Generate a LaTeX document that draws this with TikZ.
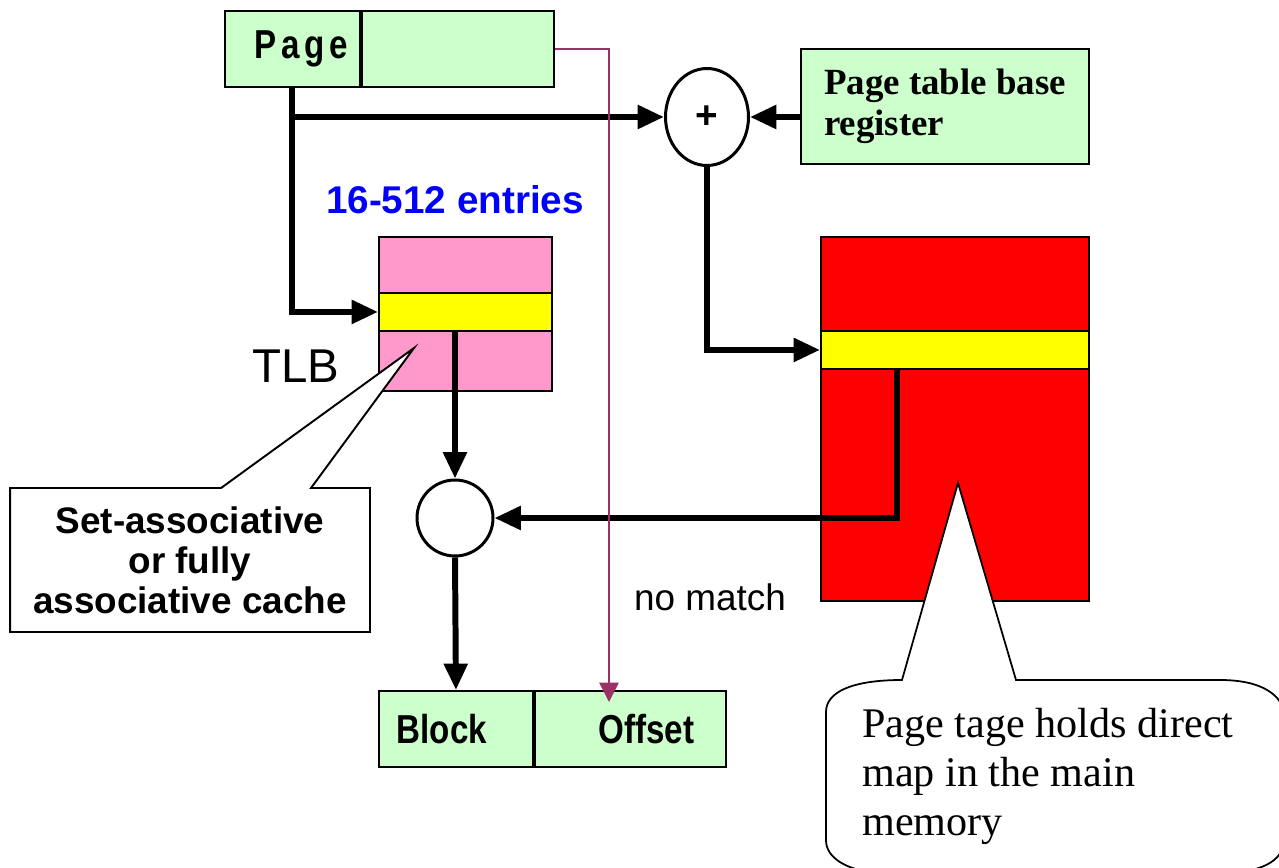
\documentclass[tikz,border=0pt]{standalone}
\usepackage{fontspec}
\setmainfont{Liberation Serif}
\setsansfont{Liberation Sans}
\newfontfamily\condfont[FakeStretch=0.82]{Liberation Sans}
\usetikzlibrary{arrows.meta,shapes.geometric,shapes.callouts,positioning}
\definecolor{regfill}{HTML}{CCFFCC}
\definecolor{tlbfill}{HTML}{FF99CC}
\definecolor{hitfill}{HTML}{FFFF00}
\definecolor{ptfill}{HTML}{FF0000}
\definecolor{offwire}{HTML}{993366}
\definecolor{entryblue}{HTML}{0000FF}
\begin{document}
\begin{tikzpicture}[x=0.02cm,y=-0.02cm,
  field/.style={draw,line width=1.1pt,fill=regfill,minimum height=1.52cm,inner sep=0pt,
    anchor=north west,font=\condfont\bfseries\fontsize{23}{26}\selectfont},
  tablebox/.style={draw,line width=1.1pt,inner sep=0pt,anchor=north west},
  hitband/.style={tablebox,fill=hitfill,minimum height=0.76cm},
  bus/.style={line width=3.4pt,-{Triangle[length=15pt,width=13pt]}},
  wire/.style={line width=0.85pt,draw=offwire,-{Triangle[length=11pt,width=11pt,fill=offwire]}}]
\useasboundingbox (0,0) rectangle (1279,868);

\node[field,minimum width=2.7cm] (pagehi) at (224,10) {\kern0.34cm\raisebox{5pt}{\addfontfeatures{LetterSpace=12}Page}};
\node[field,minimum width=3.84cm,right=0pt of pagehi] (pagelo) {};

\node[ellipse,draw,line width=1.7pt,minimum width=1.66cm,minimum height=1.94cm,inner sep=0pt,
  font=\sffamily\bfseries\fontsize{22}{22}\selectfont] (plus) at (707,117) {+};
\node[tablebox,fill=regfill,minimum width=5.76cm,minimum height=2.3cm,
  align=left,font=\bfseries\fontsize{21}{23.2}\selectfont] (ptbr) at (800,48)
  {Page table base\\register};

\node[font=\sffamily\bfseries\fontsize{22}{22}\selectfont,text=entryblue] (entries) at (455,200) {16-512 entries};
\node[tablebox,fill=tlbfill,minimum width=3.46cm,minimum height=3.08cm] (tlb) at (378,236) {};
\node[hitband,minimum width=3.46cm] (tlbrow) at (378,292) {};
\node[font=\sffamily\fontsize{27}{27}\selectfont] (tlbname) at (296,366) {TLB};

\node[tablebox,fill=ptfill,minimum width=5.36cm,minimum height=7.28cm] (pt) at (820,236) {};
\node[hitband,minimum width=5.36cm] (ptrow) at (820,330) {};
\coordinate (pttap) at (897,368);

\node[circle,draw,line width=1.7pt,minimum size=1.52cm,inner sep=0pt] (match) at (455,518) {};
\node[font=\sffamily\fontsize{21}{21}\selectfont] (nomatch) at (710,597) {no match};

\node[field,minimum width=3.08cm] (blockf) at (378,690) {Block\kern0.56cm};
\node[field,minimum width=3.82cm,right=0pt of blockf] (offsetf) {\kern0.64cm Offset};
\coordinate (offtap) at (609,702);

\node[rectangle callout,draw,line width=1.1pt,fill=white,minimum width=7.2cm,minimum height=2.88cm,
  callout absolute pointer={(414,348)},callout pointer width=1.8cm,align=center,
  font=\sffamily\bfseries\fontsize{21}{22.7}\selectfont] (cachenote) at (190,560)
  {Set-associative\\or fully\\associative cache};

\draw[line width=1pt,fill=white] (902,680) -- (958,483) -- (1016,680) -- (1220,680)
  .. controls (1262,680) and (1282,695) .. (1285,715) -- (1285,840)
  .. controls (1282,862) and (1262,872) .. (1220,874) -- (880,874)
  .. controls (846,870) and (826,858) .. (826,840) -- (826,712)
  .. controls (826,692) and (852,680) .. (902,680) -- cycle;
\node[anchor=north west,inner sep=0pt,align=left,font=\fontsize{24}{27.8}\selectfont] (tagnote) at (862,708)
  {Page tage holds direct\\map in the main\\memory};

\draw[bus] (pagehi.south) |- (tlbrow.west);
\draw[bus] (pagehi.south |- plus.west) -- (plus.west);
\draw[bus] (ptbr.west |- plus.east) -- (plus.east);
\draw[bus] (plus.south) |- (ptrow.west);
\draw[bus] (match.north |- tlbrow.south) -- (match.north);
\draw[bus] (pttap) |- (match.east);
\draw[bus] (match.south) -- (blockf.north);
\draw[wire] (pagelo.east) -| (offtap);
\end{tikzpicture}
\end{document}
